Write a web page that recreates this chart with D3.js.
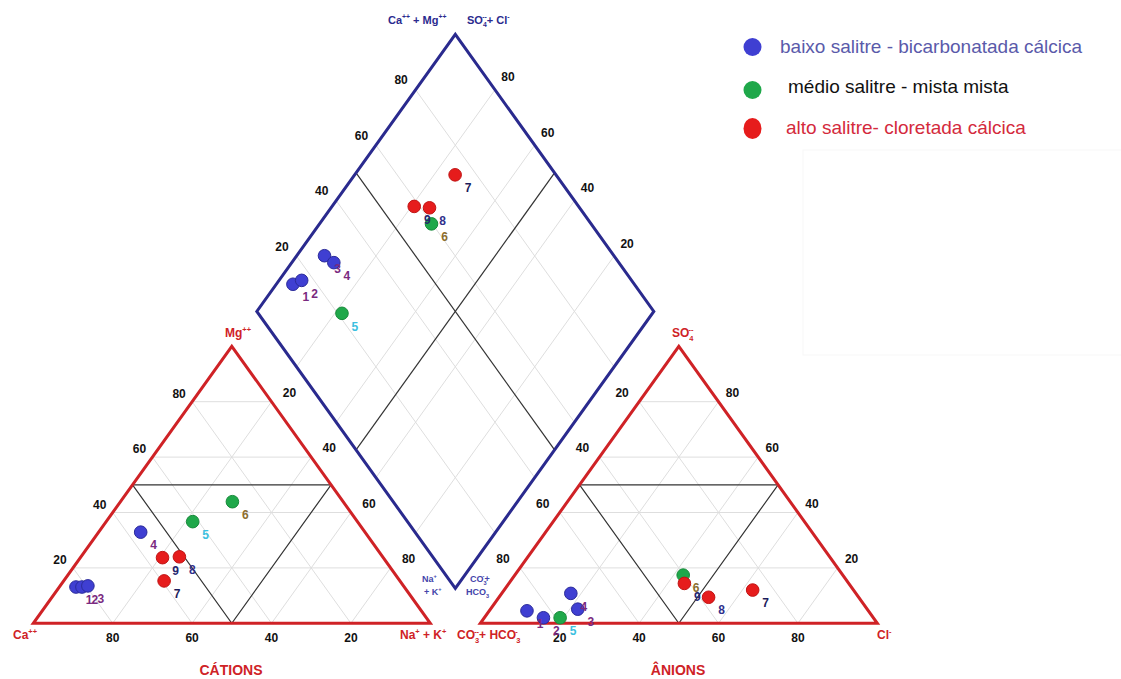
<!DOCTYPE html>
<html>
<head>
<meta charset="utf-8">
<script src="https://cdn.jsdelivr.net/npm/d3@7"></script>
<style>
  html, body { margin: 0; padding: 0; background: #fff; }
  svg { display: block; }
</style>
</head>
<body>
<svg id="chart" width="1121" height="679"></svg>
<script>
// ---- Amostras (% meq/L) ----
const sampleIds = ["1", "2", "3", "4", "5", "6", "7", "8", "9"];
const sampleGroup = ["baixo", "baixo", "baixo", "baixo", "medio", "medio", "alto", "alto", "alto"];

// Cátions
const calcio        = [82.7, 81.2, 79.5, 56.5, 41.5, 27.9, 59.4, 51.2, 55.6];
const magnesio      = [13.1, 13.1, 13.5, 32.9, 36.7, 43.9, 15.3, 24.0, 23.7];
const sodioPotassio = [ 4.2,  5.7,  7.0, 10.6, 21.8, 28.2, 25.3, 24.8, 20.7];

// Ânions
const bicarbonato = [86.0, 83.1, 72.9, 71.8, 78.9, 40.2, 25.4, 37.8, 41.4];
const sulfato     = [ 4.5,  2.0,  5.1, 10.8,  2.0, 17.4, 12.0,  9.4, 14.4];
const cloreto     = [ 9.5, 14.9, 22.0, 17.4, 19.1, 42.4, 62.6, 52.8, 44.2];

// Eixos
const tickValues = [20, 40, 60, 80];
const gridSteps = [20, 40, 60, 80];

// Legenda
const legendGroups = ["baixo", "medio", "alto"];
const legendLabels = [
  "baixo salitre - bicarbonatada cálcica",
  "médio salitre - mista mista",
  "alto salitre- cloretada cálcica"
];

// ---- Estilo ----
const FONT = "'Liberation Sans', Arial, sans-serif";
const RED = "#cf2226";
const BLUE = "#2a2a8e";
const pointFill = { baixo: "#3f3fd2", medio: "#1fa84a", alto: "#e61c1c" };
const pointStroke = { baixo: "#2b2b9a", medio: "#178a3a", alto: "#c01414" };
const labelColor = ["#7a2a80", "#7a2a80", "#7a2a80", "#7a2a80", "#3cc0e0", "#8c6d2c", "#1c1c5c", "#30308c", "#26266e"];
const legendTextColor = ["#5a5aaa", "#111111", "#d42a3c"];

// ---- Geometria ----
// Coordenadas internas: x em % do lado do triângulo, y em % da altura.
const GAP = 12.6; // espaço entre os dois triângulos (% do lado)
const x = d3.scaleLinear().domain([0, 100]).range([33.3, 430.3]);
const y = d3.scaleLinear().domain([0, 100]).range([623.3, 346.3]);
const ANION_X0 = 100 + GAP;
const B = [100 + GAP / 2, GAP];          // vértice inferior do losango

const line = d3.line().x(d => x(d[0])).y(d => y(d[1]));
const svg = d3.select("#chart");

// Posição no triângulo de cátions (Ca à esquerda, Na+K à direita, Mg no topo)
function cationPos(i) {
  const s = calcio[i] + magnesio[i] + sodioPotassio[i];
  const mg = magnesio[i] / s * 100, nk = sodioPotassio[i] / s * 100;
  return [nk + mg / 2, mg];
}
// Posição no triângulo de ânions (CO3+HCO3 à esquerda, Cl à direita, SO4 no topo)
function anionPos(i) {
  const s = bicarbonato[i] + sulfato[i] + cloreto[i];
  const so = sulfato[i] / s * 100, cl = cloreto[i] / s * 100;
  return [ANION_X0 + cl + so / 2, so];
}
// Ponto no losango a partir das frações u = Ca+Mg e v = SO4+Cl
function diamondAt(u, v) {
  return [B[0] + (v - u) * 50, B[1] + (u + v) * 100];
}
function diamondPos(i) {
  const sc = calcio[i] + magnesio[i] + sodioPotassio[i];
  const sa = bicarbonato[i] + sulfato[i] + cloreto[i];
  const u = (calcio[i] + magnesio[i]) / sc;
  const v = (sulfato[i] + cloreto[i]) / sa;
  return diamondAt(u, v);
}

// ---- Moldura clara à direita ----
svg.append("rect")
  .attr("x", 803).attr("y", 150).attr("width", 330).attr("height", 205)
  .attr("fill", "none").attr("stroke", "#f7f7f7").attr("stroke-width", 1);

// ---- Grades ----
const gGrid = svg.append("g").attr("stroke", "#dedede").attr("stroke-width", 1).attr("fill", "none");
function triangleGrid(ox) {
  gridSteps.forEach(t => {
    gGrid.append("path").attr("d", line([[ox + t / 2, t], [ox + 100 - t / 2, t]]));
    gGrid.append("path").attr("d", line([[ox + t, 0], [ox + 50 + t / 2, 100 - t]]));
    gGrid.append("path").attr("d", line([[ox + 100 - t, 0], [ox + 50 - t / 2, 100 - t]]));
  });
}
triangleGrid(0);
triangleGrid(ANION_X0);
gridSteps.forEach(t => {
  gGrid.append("path").attr("d", line([diamondAt(t / 100, 0), diamondAt(t / 100, 1)]));
  gGrid.append("path").attr("d", line([diamondAt(0, t / 100), diamondAt(1, t / 100)]));
});

// ---- Divisões das fácies ----
const gDiv = svg.append("g").attr("stroke", "#333").attr("stroke-width", 1.2).attr("fill", "none");
[0, ANION_X0].forEach(ox => {
  gDiv.append("path").attr("d", line([[ox + 25, 50], [ox + 75, 50]]));
  gDiv.append("path").attr("d", line([[ox + 25, 50], [ox + 50, 0], [ox + 75, 50]]));
});
gDiv.append("path").attr("d", line([diamondAt(0.5, 0), diamondAt(0.5, 1)]));
gDiv.append("path").attr("d", line([diamondAt(0, 0.5), diamondAt(1, 0.5)]));

// ---- Contornos ----
[0, ANION_X0].forEach(ox => {
  svg.append("path")
    .attr("d", line([[ox, 0], [ox + 100, 0], [ox + 50, 100]]) + "Z")
    .attr("fill", "none").attr("stroke", RED).attr("stroke-width", 3)
    .attr("stroke-linejoin", "miter");
});
svg.append("path")
  .attr("d", line([diamondAt(0, 0), diamondAt(1, 0), diamondAt(1, 1), diamondAt(0, 1)]) + "Z")
  .attr("fill", "none").attr("stroke", BLUE).attr("stroke-width", 3)
  .attr("stroke-linejoin", "miter");

// ---- Rótulos dos eixos ----
const gTicks = svg.append("g")
  .attr("font-family", FONT).attr("font-size", 12).attr("font-weight", "bold")
  .attr("fill", "#111").attr("text-anchor", "middle");
function tick(p, dx, dy, txt) {
  gTicks.append("text").attr("x", x(p[0]) + dx).attr("y", y(p[1]) + dy)
    .attr("dy", "0.35em").text(txt);
}
tickValues.forEach(t => {
  // cátions
  tick([t / 2, t], -13, -8, t);                 // Mg (lado esquerdo)
  tick([50 + t / 2, 100 - t], 18, -9, t);       // Na+K (lado direito)
  tick([100 - t, 0], 0, 14, t);                 // Ca (base)
  // ânions
  tick([ANION_X0 + (100 - t) / 2, 100 - t], -17, -9, t);       // CO3+HCO3
  tick([ANION_X0 + 100 - t / 2, t], 14, -9, t);                // SO4
  tick([ANION_X0 + t, 0], 0, 14, t);                           // Cl
  // losango
  tick(diamondAt(1, t / 100), -14.5, -9.5, t);  // SO4+Cl
  tick(diamondAt(t / 100, 1), 13, -12.5, t);    // Ca+Mg
});

// ---- Rótulos químicos ----
function chem(xp, yp, parts, size, color, opts = {}) {
  const t = svg.append("text")
    .attr("x", xp).attr("y", yp)
    .attr("font-family", FONT).attr("font-size", size)
    .attr("font-weight", opts.weight || "bold").attr("fill", color)
    .attr("text-anchor", opts.anchor || "start");
  let shift = 0;
  parts.forEach(([txt, kind, dx]) => {
    const ts = t.append("tspan").text(txt);
    const target = kind === "sup" ? -size * 0.42 : kind === "sub" ? size * 0.3 : 0;
    ts.attr("dy", target - shift);
    shift = target;
    if (kind !== "n") ts.attr("font-size", size * 0.62);
    if (dx) ts.attr("dx", dx);
  });
  if (shift !== 0) t.append("tspan").attr("dy", -shift).text("");
  return t;
}
const s12 = 12;
chem(13, 639, [["Ca", "n"], ["++", "sup"]], s12, RED);
chem(400, 639, [["Na", "n"], ["+", "sup"], [" + K", "n"], ["+", "sup"]], s12, RED);
chem(457, 639, [["CO", "n"], ["3", "sub"], ["--", "sup", -5], ["+ HCO", "n"], ["3", "sub"], ["-", "sup", -5]], s12, RED);
chem(877, 639, [["Cl", "n"], ["-", "sup"]], s12, RED);
chem(225, 337, [["Mg", "n"], ["++", "sup"]], s12, RED);
chem(672, 337, [["SO", "n"], ["4", "sub"], ["--", "sup", -5]], s12, RED);

chem(388, 24, [["Ca", "n"], ["++", "sup"], [" + Mg", "n"], ["++", "sup"]], 11, BLUE);
chem(467, 24, [["SO", "n"], ["4", "sub"], ["--", "sup", -4.5], ["+ Cl", "n"], ["-", "sup"]], 11, BLUE);

const BLUE2 = "#4444aa";
chem(422, 582, [["Na", "n"], ["+", "sup"]], 9, BLUE2);
chem(424, 595, [["+ K", "n"], ["+", "sup"]], 9, BLUE2);
chem(470, 582, [["CO", "n"], ["3", "sub"], ["-", "sup", -4], ["+", "n"]], 9, BLUE2);
chem(466, 595, [["HCO", "n"], ["3", "sub"]], 9, BLUE2);

svg.append("text").attr("x", 231).attr("y", 675).attr("text-anchor", "middle")
  .attr("font-family", FONT).attr("font-size", 14).attr("font-weight", "bold")
  .attr("fill", RED).text("CÁTIONS");
svg.append("text").attr("x", 678).attr("y", 675).attr("text-anchor", "middle")
  .attr("font-family", FONT).attr("font-size", 14).attr("font-weight", "bold")
  .attr("fill", RED).text("ÂNIONS");

// ---- Amostras ----
const R = 6.3;
const idx = d3.range(sampleIds.length);
const panels = [cationPos, anionPos, diamondPos];
const gPts = svg.append("g");
const gLbl = svg.append("g")
  .attr("font-family", FONT).attr("font-size", 12).attr("font-weight", "bold")
  .attr("text-anchor", "middle");
panels.forEach(pos => {
  gPts.selectAll(null).data(idx).enter().append("circle")
    .attr("cx", i => x(pos(i)[0]))
    .attr("cy", i => y(pos(i)[1]))
    .attr("r", R)
    .attr("fill", i => pointFill[sampleGroup[i]])
    .attr("stroke", i => pointStroke[sampleGroup[i]])
    .attr("stroke-width", 1);
  gLbl.selectAll(null).data(idx).enter().append("text")
    .attr("x", i => x(pos(i)[0]) + 13)
    .attr("y", i => y(pos(i)[1]) + 13)
    .attr("dy", "0.35em")
    .attr("fill", i => labelColor[i])
    .text(i => sampleIds[i]);
});

// ---- Legenda ----
const legendY = [47, 90, 128.5];
const legendTextX = [780, 788, 786];
const legendBase = [53, 93, 134];
const gLeg = svg.append("g");
legendGroups.forEach((g, k) => {
  gLeg.append("ellipse")
    .attr("cx", 752.5).attr("cy", legendY[k])
    .attr("rx", 9).attr("ry", g === "alto" ? 10.5 : 9)
    .attr("fill", pointFill[g]);
  gLeg.append("text")
    .attr("x", legendTextX[k]).attr("y", legendBase[k])
    .attr("font-family", FONT).attr("font-size", 19)
    .attr("fill", legendTextColor[k])
    .text(legendLabels[k]);
});
</script>
</body>
</html>
